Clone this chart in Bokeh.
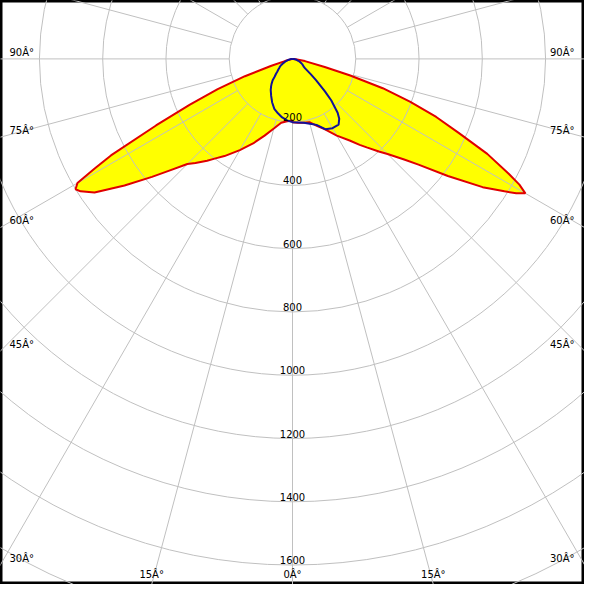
import numpy as np
from bokeh.plotting import figure
from bokeh.models import Range1d
from bokeh.core.properties import value
from bokeh.embed import file_html
from bokeh.resources import INLINE

# ---- data (candela, angle from nadir in degrees) ----
angles = [0, 5, 10, 15, 20, 25, 30, 35, 38, 40, 43, 45, 48, 50, 53, 56, 58, 59,
          60, 61, 62, 64, 66, 68, 70, 72, 74, 76, 80, 85, 90]
c0 = [200, 203, 205, 207, 225, 247, 280, 315, 345, 365, 400, 425, 475, 520, 615, 725, 790, 825,
      850, 820, 775, 685, 575, 490, 395, 300, 190, 105, 40, 10, 0]
c180 = [195, 198, 205, 228, 258, 295, 333, 375, 400, 420, 450, 470, 530, 580, 665, 755, 790, 800,
        785, 715, 650, 480, 355, 255, 160, 70, 25, 10, 0, 0, 0]
c90 = [200, 202, 205, 212, 222, 245, 253, 254, 240, 222, 180, 145, 100, 75, 50, 42, 40, 38,
       37, 36, 34, 31, 28, 25, 22, 19, 16, 14, 10, 5, 0]
c270 = [200, 195, 188, 178, 168, 152, 135, 120, 110, 103, 92, 80, 70, 63, 56, 50, 47, 45,
        43, 41, 39, 35, 31, 27, 24, 20, 17, 14, 9, 4, 0]

ring_values = [200, 400, 600, 800, 1000, 1200, 1400, 1600, 1800, 2000]
ring_labels = ["200", "400", "600", "800", "1000", "1200", "1400", "1600"]
spoke_angles = list(range(0, 360, 15))
angle_ticks = [0, 15, 30, 45, 60, 75, 90]

# ---- frame (data units = cd) ----
XL, XR = -923.08, 923.08
YB, YT = -1661.5, 184.6

p = figure(width=584, height=584, x_range=Range1d(XL, XR), y_range=Range1d(YB, YT),
           output_backend="svg", toolbar_location=None, min_border=0)
p.axis.visible = False
p.grid.visible = False
p.outline_line_color = "black"
p.outline_line_width = 4
p.background_fill_color = "white"


def polar_curve(right, left):
    a = np.radians(np.array(angles, dtype=float))
    r = np.array(right, dtype=float)
    l = np.array(left, dtype=float)
    xr = r * np.sin(a)
    yr = -r * np.cos(a)
    xl = -l * np.sin(a)
    yl = -l * np.cos(a)
    xs = np.concatenate([xr[::-1], xl])
    ys = np.concatenate([yr[::-1], yl])
    return xs, ys


rx, ry = polar_curve(c0, c180)
bx, by = polar_curve(c90, c270)

# fill
p.patch(rx, ry, fill_color="#FFFF00", line_color=None)

# grid
grid_col = "#C0C0C0"
p.circle(x=[0] * len(ring_values), y=[0] * len(ring_values), radius=ring_values,
         fill_color=None, line_color=grid_col, line_width=1)
sa = np.radians(np.array(spoke_angles, dtype=float))
p.segment(x0=200 * np.sin(sa), y0=-200 * np.cos(sa), x1=3000 * np.sin(sa), y1=-3000 * np.cos(sa),
          line_color=grid_col, line_width=1)

# curves
p.line(rx, ry, line_color="#E00000", line_width=2)
p.line(bx, by, line_color="#10109A", line_width=2)

# ring labels
p.text(x=[0] * len(ring_labels), y=[-v for v in ring_values[:len(ring_labels)]], text=ring_labels,
       text_align="center", text_baseline="bottom", y_offset=-1,
       text_font=value("DejaVu Sans"), text_font_size="10px", text_color="black")

# angle labels
lx, ly, lt = [], [], []
rxs, rys, rts = [], [], []
bxs, bts = [], []
for a in angle_ticks:
    t = np.radians(a)
    lab = f"{a}Â°"
    s, c = np.sin(t), np.cos(t)
    if s > 0:
        yy = -XR / s * c
    else:
        yy = -1e9
    if yy >= YB:
        lx.append(XL); ly.append(yy); lt.append(lab)
        rxs.append(XR); rys.append(yy); rts.append(lab)
    else:
        xx = -YB / c * s
        if a == 0:
            bxs.append(0.0); bts.append(lab)
        else:
            bxs.extend([-xx, xx]); bts.extend([lab, lab])

common = dict(text_font=value("DejaVu Sans"), text_font_size="10px", text_color="black",
              text_baseline="bottom")
p.text(x=lx, y=ly, text=lt, text_align="left", x_offset=9, y_offset=-1, **common)
p.text(x=rxs, y=rys, text=rts, text_align="right", x_offset=-10, y_offset=-1, **common)
p.text(x=bxs, y=[YB] * len(bxs), text=bts, text_align="center", x_offset=0, y_offset=-5, **common)

open("out.html", "w", encoding="utf-8").write(file_html(p, INLINE))
